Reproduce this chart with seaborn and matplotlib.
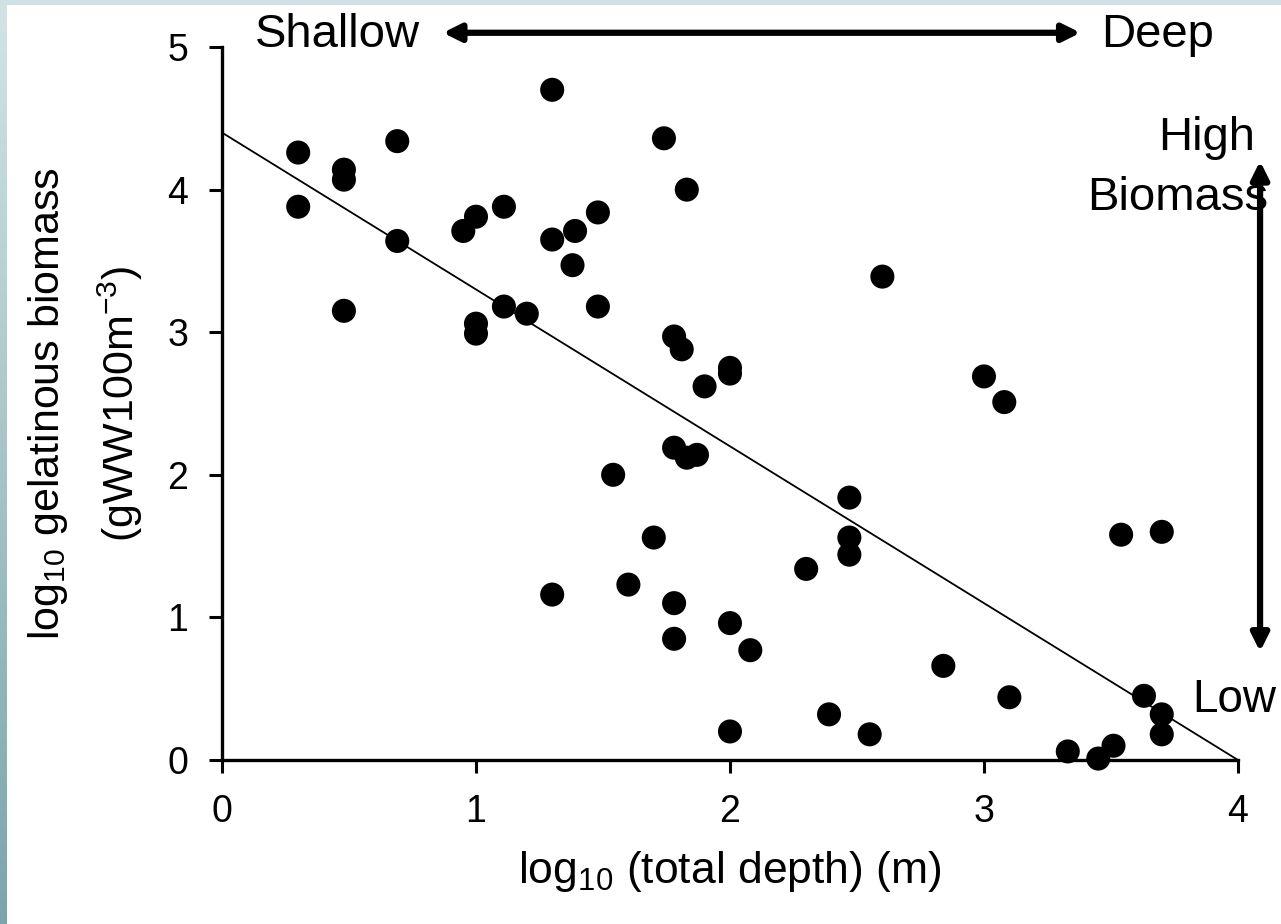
import numpy as np
import pandas as pd
import seaborn as sns
import matplotlib.pyplot as plt
from matplotlib.colors import LinearSegmentedColormap

# log10 depth (m) vs log10 gelatinous biomass
depth = [0.30, 0.30, 0.48, 0.48, 0.48, 0.69, 0.69, 0.95, 1.00, 1.00,
         1.00, 1.11, 1.11, 1.20, 1.30, 1.30, 1.30, 1.39, 1.38, 1.48,
         1.48, 1.54, 1.60, 1.70, 1.74, 1.78, 1.78, 1.78, 1.78, 1.81,
         1.83, 1.83, 1.87, 1.90, 2.00, 2.00, 2.00, 2.00, 2.08, 2.30,
         2.39, 2.47, 2.47, 2.47, 2.55, 2.60, 2.84, 3.00, 3.08, 3.10,
         3.33, 3.45, 3.51, 3.54, 3.70, 3.63, 3.70, 3.70]
biomass = [4.26, 3.88, 4.14, 4.07, 3.15, 4.34, 3.64, 3.71, 3.81, 3.06,
           2.99, 3.88, 3.18, 3.13, 4.70, 3.65, 1.16, 3.71, 3.47, 3.84,
           3.18, 2.00, 1.23, 1.56, 4.36, 2.97, 2.19, 1.10, 0.85, 2.88,
           4.00, 2.12, 2.14, 2.62, 2.75, 2.71, 0.96, 0.20, 0.77, 1.34,
           0.32, 1.84, 1.56, 1.44, 0.18, 3.39, 0.66, 2.69, 2.51, 0.44,
           0.06, 0.01, 0.10, 1.58, 1.60, 0.45, 0.32, 0.18]

# fitted line shown in the figure
fit_x = [0, 4]
fit_y = [4.4, 0.0]

df = pd.DataFrame({'depth': depth, 'biomass': biomass})

sns.set_style('ticks')
plt.rcParams['font.family'] = ['Liberation Sans', 'DejaVu Sans']
plt.rcParams['mathtext.fontset'] = 'custom'
plt.rcParams['mathtext.rm'] = 'Liberation Sans'
plt.rcParams['text.color'] = 'black'
plt.rcParams['axes.labelcolor'] = 'black'
plt.rcParams['xtick.color'] = 'black'
plt.rcParams['ytick.color'] = 'black'
plt.rcParams['axes.edgecolor'] = 'black'

fig = plt.figure(figsize=(12.81, 9.24), dpi=100)
fig.patch.set_facecolor('white')

# slide-like frame: light strip on top, gradient strip on the left
bg = fig.add_axes([0, 0, 1, 1], zorder=-10)
bg.set_axis_off()
bg.add_patch(plt.Rectangle((0, 0), 1281, 5, color='#cfe1e4', lw=0))
grad = LinearSegmentedColormap.from_list('frame', ['#d2e3e6', '#7aa6aa'])
bg.imshow(np.linspace(0, 1, 200).reshape(-1, 1), cmap=grad, aspect='auto',
          extent=(0, 7, 924, 0))
bg.set_xlim(0, 1281)
bg.set_ylim(924, 0)

ax = fig.add_axes([0.1733, 0.1775, 0.7931, 0.7716])
ax.set_facecolor('none')

sns.scatterplot(data=df, x='depth', y='biomass', ax=ax, color='black',
                s=300, edgecolor='none', zorder=3, clip_on=False)
sns.lineplot(x=fit_x, y=fit_y, ax=ax, color='black', lw=1.3, zorder=2)

ax.set_xlim(0, 4)
ax.set_ylim(0, 5)
ax.set_xticks([0, 1, 2, 3, 4])
ax.set_yticks([0, 1, 2, 3, 4, 5])
ax.tick_params(labelsize=27, length=9.5, width=2.2, direction='out', pad=15)
sns.despine(ax=ax)
for sp in ['left', 'bottom']:
    ax.spines[sp].set_linewidth(2.4)

ax.set_xlabel(r'log$_{10}$ (total depth) (m)', fontsize=32, labelpad=14)
ax.set_ylabel('log$_{10}$ gelatinous biomass\n(gWW100m$^{-3}$)', fontsize=31,
              linespacing=1.65)
ax.yaxis.set_label_coords(-0.076, 0.5)

# annotation arrows and labels
ax.text(0.13, 5.0, 'Shallow', fontsize=34, va='baseline', ha='left', clip_on=False)
ax.text(3.46, 5.0, 'Deep', fontsize=34, va='baseline', ha='left', clip_on=False)
ax.annotate('', xy=(0.87, 5.1), xytext=(3.38, 5.1),
            arrowprops=dict(arrowstyle='<|-|>', color='black', lw=4.5,
                            mutation_scale=26, shrinkA=0, shrinkB=0),
            annotation_clip=False)

ax.annotate('', xy=(4.087, 4.20), xytext=(4.087, 0.76),
            arrowprops=dict(arrowstyle='<|-|>', color='black', lw=4.5,
                            mutation_scale=26, shrinkA=0, shrinkB=0),
            annotation_clip=False)
ax.text(4.067, 4.28, 'High', fontsize=34, va='baseline', ha='right', clip_on=False)
ax.text(4.118, 3.86, 'Biomass', fontsize=34, va='baseline', ha='right', clip_on=False)
ax.text(3.82, 0.34, 'Low', fontsize=33, va='baseline', ha='left', clip_on=False)

plt.savefig('out.png', dpi=100)
